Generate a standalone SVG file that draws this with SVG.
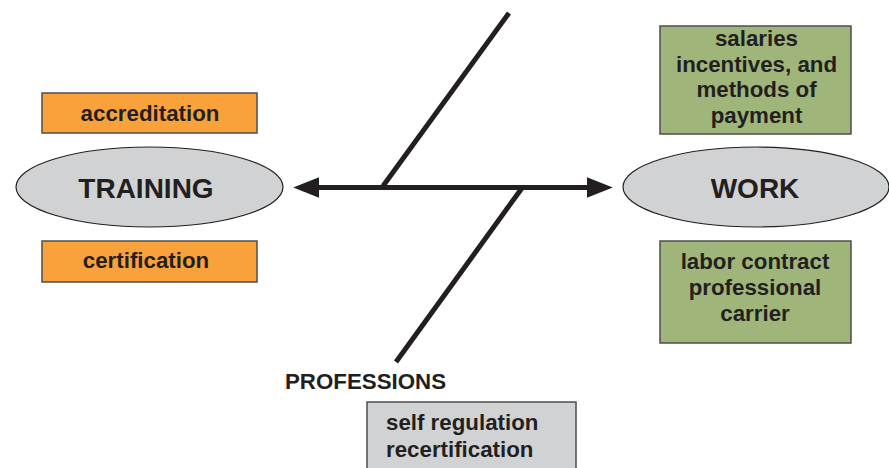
<svg xmlns="http://www.w3.org/2000/svg" width="889" height="468" viewBox="0 0 889 468">
<defs>
<style>
text{font-family:"Liberation Sans",Arial,sans-serif;font-weight:bold;fill:#231f20;}
.t{font-size:22.3px;text-anchor:middle;}
.s{font-size:22.3px;}
.big{font-size:28px;text-anchor:middle;}
.orange{fill:#f9a23b;stroke:#4d4d4f;stroke-width:1.5;}
.green{fill:#9fb57a;stroke:#4d4d4f;stroke-width:1.5;}
.gray{fill:#d1d2d4;stroke:#4d4d4f;stroke-width:1.5;}
.ell{fill:#d1d2d4;stroke:#231f20;stroke-width:1.2;}
.line{stroke:#231f20;stroke-width:5;fill:none;}
</style>
<marker id="ah" markerUnits="userSpaceOnUse" markerWidth="26" markerHeight="22" viewBox="0 0 25 20" refX="5" refY="10" orient="auto-start-reverse">
<path d="M0,0 L25,10 L0,20 z" fill="#231f20"/>
</marker>
</defs>
<g id="connectors">
<line class="line" x1="314" y1="187.5" x2="592" y2="187.5" marker-start="url(#ah)" marker-end="url(#ah)"/>
<line class="line" x1="383" y1="186" x2="509" y2="13"/>
<line class="line" x1="522" y1="188" x2="396" y2="362"/>
</g>
<g id="accreditation">
<rect class="orange" x="42" y="93" width="215" height="40"/>
<text class="t" x="150" y="120.5">accreditation</text>
</g>
<g id="training">
<ellipse class="ell" cx="149.5" cy="187" rx="133.5" ry="40"/>
<text class="big" x="146" y="197.5">TRAINING</text>
</g>
<g id="certification">
<rect class="orange" x="42" y="241" width="215" height="41"/>
<text class="t" x="146" y="268">certification</text>
</g>
<g id="salaries">
<rect class="green" x="660" y="26" width="191" height="108"/>
<text class="t" x="756.5" y="46">salaries</text>
<text class="t" x="756.5" y="71.5">incentives, and</text>
<text class="t" x="756.5" y="97">methods of</text>
<text class="t" x="756.5" y="122.5">payment</text>
</g>
<g id="work">
<ellipse class="ell" cx="756" cy="187" rx="133" ry="40"/>
<text class="big" x="755" y="197.5">WORK</text>
</g>
<g id="labor">
<rect class="green" x="660" y="241" width="191" height="102"/>
<text class="t" x="755" y="269">labor contract</text>
<text class="t" x="755" y="295">professional</text>
<text class="t" x="755" y="320.5">carrier</text>
</g>
<g id="professions">
<text class="s" x="285" y="388.5">PROFESSIONS</text>
</g>
<g id="selfregulation">
<rect class="gray" x="367" y="402" width="209" height="70"/>
<text class="s" x="386" y="430">self regulation</text>
<text class="s" x="386" y="456.5">recertification</text>
</g>
</svg>
